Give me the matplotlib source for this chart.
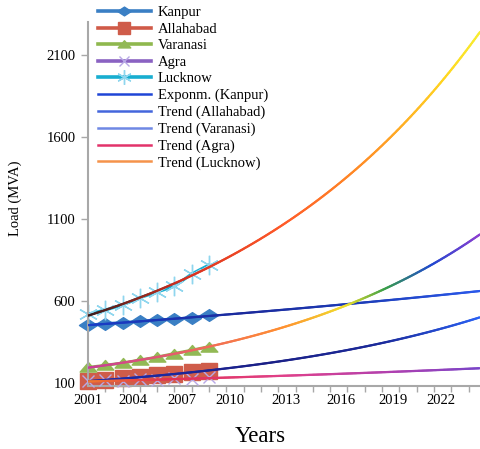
import numpy as np
import matplotlib
matplotlib.use('Agg')
import matplotlib.pyplot as plt
from matplotlib.collections import LineCollection
from matplotlib.colors import LinearSegmentedColormap
from matplotlib.lines import Line2D
from matplotlib.path import Path

plt.rcParams['font.family'] = ['Liberation Serif', 'DejaVu Serif']

# observed load (MVA), 2001-2008
years = np.arange(2001, 2009)
kanpur = [452, 462, 468, 476, 484, 490, 498, 512]
allahabad = [110, 118, 128, 138, 148, 155, 165, 175]
varanasi = [195, 208, 222, 240, 258, 280, 300, 322]
agra = [110, 116, 110, 122, 116, 128, 122, 134]
lucknow = [520, 545, 576, 620, 655, 690, 765, 820]

series_names = ['Kanpur', 'Allahabad', 'Varanasi', 'Agra', 'Lucknow']
trend_names = ['Exponm. (Kanpur)', 'Trend (Allahabad)', 'Trend (Varanasi)',
               'Trend (Agra)', 'Trend (Lucknow)']

tick_years = [2001, 2004, 2007, 2010, 2013, 2016, 2019, 2022]
y_ticks = [100, 600, 1100, 1600, 2100]

# --- style ---
diamond = Path([(-1, 0), (0, 0.65), (1, 0), (0, -0.65), (-1, 0)],
               [Path.MOVETO, Path.LINETO, Path.LINETO, Path.LINETO, Path.CLOSEPOLY])
wide_tri = Path([(-1, -0.55), (1, -0.55), (0, 0.6), (-1, -0.55)],
                [Path.MOVETO, Path.LINETO, Path.LINETO, Path.CLOSEPOLY])

line_colors = ['#3a7fc4', '#d05a48', '#8fb84e', '#8a62c2', '#18aed0']
marker_colors = ['#3a7fc4', '#cf5c4a', '#92b955', '#b8a8e6', '#8fd6ee']
markers = [diamond, 's', wide_tri, 'x', (6, 2, 0)]
marker_sizes = [13, 12, 12, 9, 14]
line_widths = [2.2, 2.2, 2.2, 1.0, 2.2]

# gradient stops (position along the x range, colour)
trend_stops = [
    [(0, '#1a3ec8'), (0.4, '#1b2a9c'), (0.7, '#1c3cb8'), (1, '#2a58ea')],
    [(0, '#1d2fb0'), (0.45, '#1a1f86'), (0.75, '#1b2a9a'), (1, '#2a60f2')],
    [(0, '#c83c9a'), (0.3, '#f06a5a'), (0.5, '#ff9030'), (0.66, '#f0e02c'),
     (0.76, '#3aa048'), (0.88, '#2048d0'), (1, '#8a3ed0')],
    [(0, '#f07830'), (0.2, '#e23050'), (0.5, '#e0408a'), (0.78, '#b040b0'),
     (1, '#7a44c8')],
    [(0, '#3a1c1c'), (0.25, '#d83020'), (0.5, '#ff5a28'), (0.75, '#ff9a24'),
     (0.92, '#ffd820'), (1, '#f8ec30')],
]
trend_legend_colors = ['#1f45d6', '#4466dc', '#6f88e4', '#e2336a', '#f5934a']

x_min, x_max = 2001, 2023.66
y_min, y_max = 82, 2300

fig = plt.figure(figsize=(4.8, 4.49), dpi=100)
ax = fig.add_axes([88 / 480, 1 - 386 / 449, 1 - 88 / 480, (386 - 22) / 449])

data = [kanpur, allahabad, varanasi, agra, lucknow]
handles = []
for i, vals in enumerate(data):
    ax.plot(years, vals, color=line_colors[i], lw=line_widths[i], zorder=2,
            clip_on=False)
    ax.plot(years, vals, ls='none', marker=markers[i], ms=marker_sizes[i],
            mfc=marker_colors[i], mec=marker_colors[i], mew=1.0,
            zorder=2.5 if i != 3 else 3, clip_on=False)
    handles.append(Line2D([], [], color=line_colors[i], lw=2.6,
                          marker=markers[i], ms=marker_sizes[i] * 0.75,
                          mfc=marker_colors[i], mec=marker_colors[i]))

# exponential trend lines fitted to the observations
xs = np.linspace(x_min, x_max, 300)
for i, vals in enumerate(data):
    coef = np.polyfit(years, np.log(vals), 1)
    ys = np.exp(np.polyval(coef, xs))
    pts = np.column_stack([xs, ys]).reshape(-1, 1, 2)
    segs = np.concatenate([pts[:-1], pts[1:]], axis=1)
    cmap = LinearSegmentedColormap.from_list('t%d' % i, trend_stops[i])
    lc = LineCollection(segs, colors=cmap(np.linspace(0, 1, len(segs))),
                        lw=1.6, zorder=4, capstyle='round')
    ax.add_collection(lc)
    handles.append(Line2D([], [], color=trend_legend_colors[i], lw=1.8))

ax.set_xlim(x_min, x_max)
ax.set_ylim(y_min, y_max)

for s in ['top', 'right']:
    ax.spines[s].set_visible(False)
for s in ['left', 'bottom']:
    ax.spines[s].set_color('#a8a8a8')
    ax.spines[s].set_linewidth(1.5)

ax.set_yticks(y_ticks)
ax.set_yticklabels([str(v) for v in y_ticks])
ax.tick_params(axis='y', length=5, width=1, color='#a8a8a8', labelsize=10.5,
               pad=4)

# year ticks every year, labels sit slightly left of their ticks
label_shift = [0.0, -0.4, -0.57, -0.79, -0.55, -0.38, -0.37, -0.6]
ax.set_xticks([y + d for y, d in zip(tick_years, label_shift)])
ax.set_xticklabels([str(y) for y in tick_years])
ax.set_xticks(np.arange(2001, 2024), minor=True)
ax.tick_params(axis='x', which='major', length=0, labelsize=10.5, pad=6)
ax.tick_params(axis='x', which='minor', length=4, width=1, color='#a8a8a8')

fig.text(15 / 480, 1 - 198 / 449, 'Load (MVA)', rotation=90, ha='center',
         va='center', fontsize=10.5)
fig.text(260 / 480, 1 - 437 / 449, 'Years', ha='center', va='center',
         fontsize=16.5)

leg = fig.legend(handles, series_names + trend_names, loc='upper left',
                 bbox_to_anchor=(98 / 480, 1 - 6 / 449), frameon=False,
                 fontsize=10.5, handlelength=3.6, handletextpad=0.5,
                 labelspacing=0.23, borderpad=0, borderaxespad=0, numpoints=1)

fig.savefig('out.png', dpi=100)
